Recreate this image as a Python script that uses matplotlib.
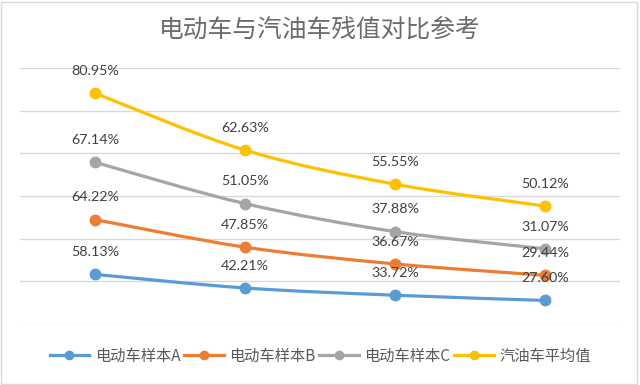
import matplotlib
matplotlib.use("Agg")
import matplotlib.pyplot as plt
from matplotlib.path import Path
from matplotlib.patches import PathPatch, Rectangle
from matplotlib.lines import Line2D
import numpy as np

plt.rcParams['font.family'] = ['Noto Sans CJK SC', 'DejaVu Sans']

title = "电动车与汽油车残值对比参考"
categories = ["1", "2", "3", "4"]
series_names = ["电动车样本A", "电动车样本B", "电动车样本C", "汽油车平均值"]
ev_a = [58.13, 42.21, 33.72, 27.60]
ev_b = [64.22, 47.85, 36.67, 29.44]
ev_c = [67.14, 51.05, 37.88, 31.07]
gas_avg = [80.95, 62.63, 55.55, 50.12]
colors = ["#5B9BD5", "#ED7D31", "#A5A5A5", "#FFC000"]

fig = plt.figure(figsize=(6.4, 3.85), dpi=100)
W, H = 640, 385
ax = fig.add_axes([20 / W, 1 - 324 / H, 600 / W, (324 - 68) / H])

x = np.arange(len(categories))
series = [ev_a, ev_b, ev_c, gas_avg]
cum = np.zeros(len(categories))


def smooth_path(xs, ys):
    pts = np.column_stack([xs, ys]).astype(float)
    n = len(pts)
    verts = [pts[0]]
    codes = [Path.MOVETO]
    for i in range(n - 1):
        p0 = pts[i - 1] if i > 0 else pts[i]
        p1 = pts[i]
        p2 = pts[i + 1]
        p3 = pts[i + 2] if i + 2 < n else pts[i + 1]
        c1 = p1 + (p2 - p0) / 6.0
        c2 = p2 - (p3 - p1) / 6.0
        verts += [c1, c2, p2]
        codes += [Path.CURVE4] * 3
    return Path(verts, codes)


for vals, col, name in zip(series, colors, series_names):
    cum = cum + np.array(vals)
    p = smooth_path(x, cum)
    ax.add_patch(PathPatch(p, facecolor='none', edgecolor=col, lw=2.3,
                           capstyle='round', joinstyle='round', zorder=3))
    ax.plot(x, cum, 'o', color=col, ms=7.5, zorder=4)
    for xi, yi, v in zip(x, cum, vals):
        ax.annotate(f"{v:.2f}%", (xi, yi), xytext=(0, 16), textcoords='offset points',
                    ha='center', va='center', fontsize=10.3, color='#404040',
                    family=['Lato', 'DejaVu Sans'], zorder=5)

ax.set_xlim(-0.5, 3.5)
ax.set_ylim(0, 300)
ax.set_yticks(np.arange(0, 301, 50))
ax.grid(axis='y', color='#D9D9D9', lw=1)
ax.set_axisbelow(True)
ax.tick_params(left=False, bottom=False, labelleft=False, labelbottom=False)
for s in ax.spines.values():
    s.set_visible(False)

fig.text(0.5, 1 - 30 / H, title, ha='center', va='center', fontsize=17.8,
         color='#6b6b6b', fontweight='light')

handles = [Line2D([0], [0], color=c, lw=2.3, marker='o', ms=6) for c in colors]
fig.legend(handles, series_names, loc='center', bbox_to_anchor=(0.5, 1 - 356 / H),
           ncol=4, frameon=False, fontsize=11, labelcolor='#595959',
           handlelength=2.6, handletextpad=0.35, columnspacing=0.25)

fig.patches.append(Rectangle((1 / W, 1 / H), 1 - 4 / W, 1 - 3 / H, transform=fig.transFigure,
                             fill=False, edgecolor='#D9D9D9', lw=1))

fig.savefig("out.png", dpi=100)
